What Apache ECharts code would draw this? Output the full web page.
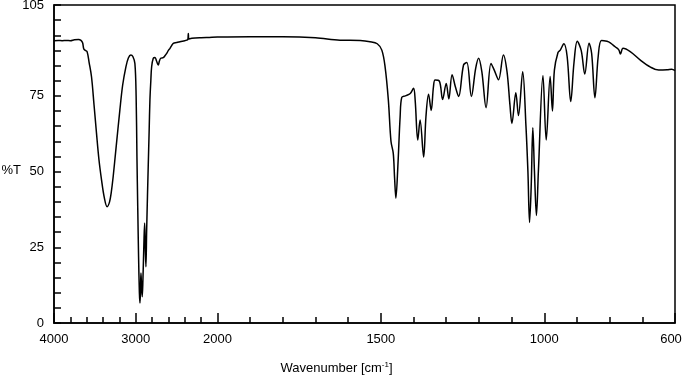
<!DOCTYPE html>
<html>
<head>
<meta charset="utf-8">
<script src="https://cdn.jsdelivr.net/npm/echarts@6/dist/echarts.min.js"></script>
<style>
html,body{margin:0;padding:0;background:#fff;}
#chart{width:683px;height:375px;}
</style>
</head>
<body>
<div id="chart"></div>
<script>
// Spectrum values: wavenumber (cm-1) and %T
const wavenumbers = [
4000,3950,3900,3850,3800,3750,3700,3670,3650,3635,3615,3595,3570,3541,3510,3480,3450,3418,3385,3350,
3320,3300,3276,3240,3194,3160,3120,3090,3060,3035,3010,2995,2985,2975,2965,2955,2948,2942,2936,2928,
2920,2912,2900,2891,2883,2875,2866,2856,2847,2836,2826,2815,2805,2785,2764,2745,2724,2710,2694,2663,
2640,2621,2600,2580,2560,2540,2500,2458,2400,2375,2362,2356,2350,2314,2200,2100,2000,
1900,1800,1700,1625,1563,1533,1511,1497,1487,1477,1469,1462,1458,1454,1448,1441,1436,1425,1410,1400,
1395,1387,1380,1369,1362,1354,1346,1339,1334,1321,1311,1300,1292,1282,1272,1262,1247,1237,1223,1210,
1201,1191,1178,1163,1153,1140,1125,1114,1105,1099,1087,1079,1066,1056,1050,1045,1040,1035,1030,1024,
1018,1004,994,982,975,969,958,951,940,930,919,909,899,887,876,863,855,845,835,825,
808,798,783,772,767,759,737,706,675,650,624,610,600
];
const transmittance = [
93.2,93.3,93.2,93.3,93.2,93.5,93.6,93.3,92.5,90.5,90.0,89.6,86.0,81.3,72.0,62.7,54.0,47.2,41.5,38.4,
40.0,43.0,48.3,58.0,70.3,78.5,84.6,87.5,88.5,88.0,85.7,75.0,55.0,38.0,22.0,10.0,6.6,10.0,16.5,12.0,
8.7,14.0,26.0,33.0,25.0,18.6,30.7,42.0,51.6,63.0,73.6,80.0,84.6,87.4,87.7,86.5,85.2,86.5,87.4,87.6,
88.3,89.0,90.0,90.7,91.6,92.3,92.6,92.9,93.2,93.4,93.6,95.6,93.8,94.0,94.2,94.3,94.4,
94.5,94.5,94.2,93.4,93.3,92.9,92.2,90.1,84.6,73.6,60.0,56.0,48.0,41.2,51.6,68.1,74.5,75.0,75.8,77.5,
73.6,60.4,67.0,54.8,68.1,75.5,70.2,78.0,80.2,79.9,73.8,79.1,74.0,82.0,78.0,74.8,85.2,86.0,74.8,84.0,
87.4,83.0,71.1,85.7,83.5,80.3,88.5,83.0,72.0,65.9,76.0,68.5,83.0,65.0,50.0,33.2,45.0,64.5,50.0,35.5,
50.0,81.7,60.4,81.4,70.0,83.5,89.3,90.1,92.2,88.0,73.1,86.0,93.0,90.0,82.2,92.4,89.0,74.4,88.0,93.3,
93.0,92.5,91.2,90.2,88.8,90.7,89.6,86.8,84.5,83.5,83.6,83.8,83.3
];
const xMajorTicks = [4000,3000,2000,1500,1000,600];
const xMinorTicks = [3800,3600,3400,3200,2800,2600,2400,2200,1900,1800,1700,1600,1400,1300,1200,1100,900,800,700];
const yTickLabels = [0,25,50,75,105];

// Scale change at 2000 cm-1: above it the axis is compressed by 4
function toU(w){ return w >= 2000 ? (4000 - w) / 4 : 500 + (2000 - w); }
function fromU(u){ return u <= 500 ? Math.round(4000 - 4 * u) : Math.round(2000 - (u - 500)); }

const seriesData = wavenumbers.map((w, i) => [toU(w), transmittance[i]]);

const chart = echarts.init(document.getElementById('chart'), null, {renderer:'canvas'});
const font = 'Liberation Sans, Arial, sans-serif';
chart.setOption({
  animation:false,
  backgroundColor:'#fff',
  grid:{left:54,right:8,top:5,bottom:52,outerBoundsMode:'none',containLabel:false,show:true,borderColor:'#000',borderWidth:1.5,backgroundColor:'transparent'},
  xAxis:[{
    type:'value',min:0,max:1900,
    axisLine:{show:true,lineStyle:{color:'#000',width:1.5}},
    axisTick:{show:true,inside:true,length:10,lineStyle:{color:'#000',width:1.5},customValues:xMajorTicks.map(toU)},
    axisLabel:{show:true,margin:10,color:'#000',fontSize:13,fontFamily:font,customValues:xMajorTicks.map(toU),
      formatter:v=>{ const w = fromU(v); return w === 600 ? '{m|600}' : String(w); },
      rich:{m:{fontSize:13,fontFamily:font,color:'#000',padding:[0,8,0,0]}}},
    splitLine:{show:false},
    name:'{a|Wavenumber [cm}{b|-1}{a|]}',
    nameLocation:'middle',nameGap:38,nameMoveOverlap:false,
    nameTextStyle:{padding:[0,56,0,0],rich:{a:{fontSize:13,fontFamily:font,color:'#000'},b:{fontSize:8,fontFamily:font,color:'#000',verticalAlign:'top',padding:[0,0,6,0]}}}
  },{
    type:'value',min:0,max:1900,position:'bottom',
    axisLine:{show:false},
    axisTick:{show:true,inside:true,length:6,lineStyle:{color:'#000',width:1.5},customValues:xMinorTicks.map(toU)},
    axisLabel:{show:false},
    splitLine:{show:false}
  }],
  yAxis:{
    type:'value',min:0,max:105,interval:5,
    axisLine:{show:true,lineStyle:{color:'#000',width:1.5}},
    axisTick:{show:true,inside:true,length:7,lineStyle:{color:'#000',width:1.5}},
    axisLabel:{show:true,margin:10,color:'#000',fontSize:13,fontFamily:font,customValues:yTickLabels},
    splitLine:{show:false},
    name:'%T',nameLocation:'middle',nameRotate:0,nameGap:33,nameMoveOverlap:false,
    nameTextStyle:{fontSize:13,fontFamily:font,color:'#000',verticalAlign:'top'}
  },
  series:[{
    type:'line',xAxisIndex:0,data:seriesData,showSymbol:false,smooth:0.35,
    lineStyle:{color:'#000',width:1.5},clip:true
  }]
});
</script>
</body>
</html>
